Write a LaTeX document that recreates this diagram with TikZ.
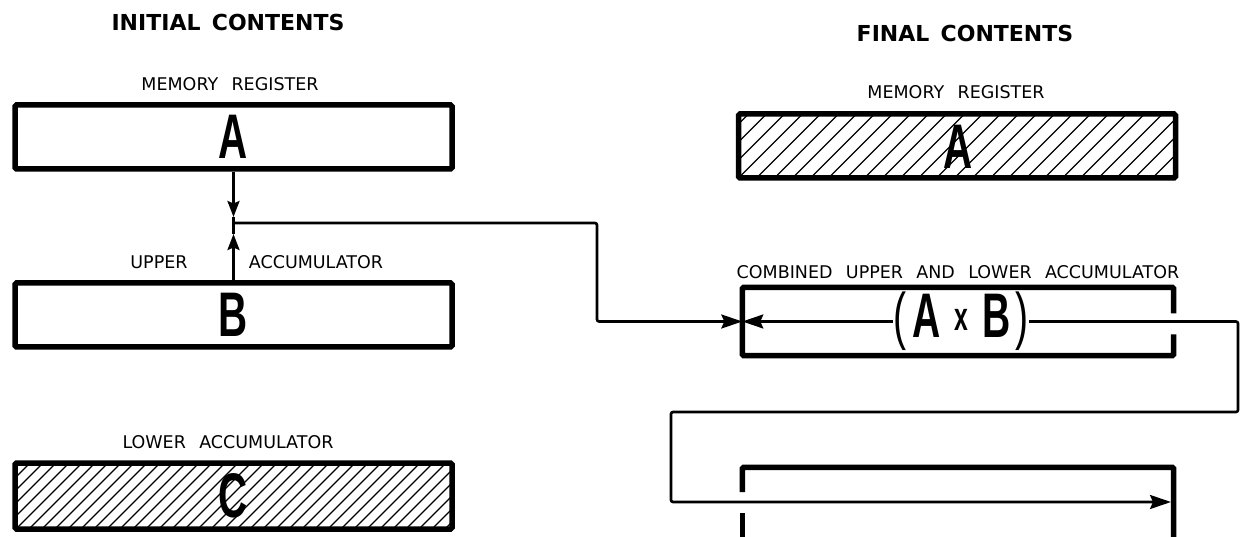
\documentclass[tikz,border=0pt]{standalone}
\usepackage{fontspec}
\usepackage{graphicx}
\setmainfont{DejaVu Sans}
\newfontfamily\bigfont{Liberation Sans}
\usetikzlibrary{arrows.meta}
\tikzset{
  reg/.style={draw, line width=5.5pt, rounded corners=1.5pt, minimum width=437pt, minimum height=64pt, inner sep=0pt},
  regopen/.style={line width=5.5pt, rounded corners=1.5pt},
  lbl/.style={font=\fontsize{17.5}{17.5}\selectfont, inner sep=0pt},
  ttl/.style={font=\bfseries\fontsize{22}{22}\selectfont, inner sep=0pt},
  bigl/.style={inner sep=0pt},
  wire/.style={line width=2.6pt},
  hatch/.style={line width=1.4pt},
  tipS/.tip={Stealth[length=21pt,width=14pt,inset=3pt]},
  tipV/.tip={Stealth[length=16pt,width=12pt,inset=2.5pt]},
}
\newcommand{\bigletter}[1]{\scalebox{0.64}[1]{\bigfont\bfseries\fontsize{63}{63}\selectfont #1}}
\begin{document}
\begin{tikzpicture}[x=1pt,y=-1pt]
\useasboundingbox (0,0) rectangle (1243,537);

% titles
\node[ttl] (t1) at (228,22) {INITIAL\, CONTENTS};
\node[ttl] (t2) at (965,33) {FINAL\, CONTENTS};

% left column
\node[lbl] (l1) at (230,84) {MEMORY\;\, REGISTER};
\node[reg] (A) at (233.5,137) {};
\node[bigl] (Aletter) at (233.5,137) {\bigletter{A}};

\node[lbl] (l2) at (159,262) {UPPER};
\node[lbl] (l3) at (316,262) {ACCUMULATOR};
\node[reg] (B) at (233.5,315) {};
\node[bigl] (Bletter) at (233.5,315) {\bigletter{B}};

\node[lbl] (l4) at (228,442) {LOWER\;\, ACCUMULATOR};
\node[reg, minimum height=66pt] (C) at (233.5,496) {};
\begin{scope}
  \clip ([xshift=2.5pt,yshift=2.5pt]C.south west) rectangle ([xshift=-2.5pt,yshift=-2.5pt]C.north east);
  \foreach \k in {-90,-77,...,450} \draw[hatch] ([xshift=\k pt]C.south west) -- ++(90,-90);
\end{scope}
\node[bigl] (Cletter) at (233.5,496) {\bigletter{C}};

% right column
\node[lbl] (r1) at (956,92) {MEMORY\;\, REGISTER};
\node[reg] (A2) at (957,146) {};
\begin{scope}
  \clip ([xshift=2.5pt,yshift=2.5pt]A2.south west) rectangle ([xshift=-2.5pt,yshift=-2.5pt]A2.north east);
  \foreach \k in {-90,-72,...,450} \draw[hatch] ([xshift=\k pt]A2.south west) -- ++(90,-90);
\end{scope}
\node[bigl] (A2letter) at (958,147) {\bigletter{A}};

\node[lbl] (r2) at (958,272) {COMBINED\;\, UPPER\;\, AND\;\, LOWER\;\, ACCUMULATOR};
\node[inner sep=0pt, minimum width=431pt, minimum height=68pt] (AB) at (958,321.5) {};
\draw[regopen] ([yshift=8pt]AB.east) -- (AB.north east) -- (AB.north west) -- (AB.south west) -- (AB.south east) -- ([yshift=-13pt]AB.east);
\node[inner sep=0pt] (ABt) at (961,321.5) {\scalebox{0.62}[1]{\bigfont\fontsize{63}{63}\selectfont (\hspace{11pt}\textbf{A}\hspace{22pt}\raisebox{7pt}{\fontsize{40}{40}\selectfont\textbf{x}}\hspace{22pt}\textbf{B}\hspace{9pt})}};

\node[inner sep=0pt, minimum width=431pt, minimum height=85pt] (L) at (958,510) {};
\draw[regopen] ([yshift=18pt]L.west) -- (L.north west) -- (L.north east) -- (L.south east);
\draw[regopen] ([yshift=-3pt]L.west) -- (L.south west);

% connectors left
\coordinate (vd) at (233.5,217);
\coordinate (vu) at (233.5,234);
\coordinate (jn) at (233.5,223);
\coordinate (k1) at (597,223);
\coordinate (k2) at (597,321.5);
\draw[wire,-tipV] (A.south) -- (vd);
\draw[wire] (vd) -- (vu);
\draw[wire,-tipV] (B.north) -- (vu);
\draw[wire,-tipS,rounded corners=2pt] (jn) -- (k1) -- (k2) -- (AB.west);

% connectors right
\draw[wire,-tipS] (ABt.west) -- (AB.west);
\coordinate (m1) at (1238,321.5);
\coordinate (m2) at (1238,412);
\coordinate (m3) at (671,412);
\coordinate (m4) at (671,502);
\coordinate (m5) at (1173.5,502);
\draw[wire,-tipS,rounded corners=2pt,shorten >=2.5pt] (ABt.east) -- (m1) -- (m2) -- (m3) -- (m4) -- (m5);
\end{tikzpicture}
\end{document}
